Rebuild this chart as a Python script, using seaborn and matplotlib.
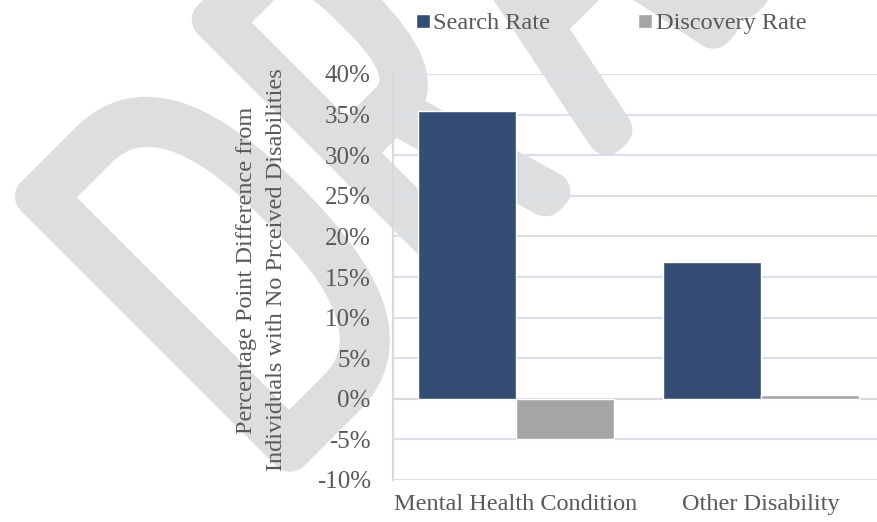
import matplotlib
matplotlib.use("Agg")
import matplotlib.pyplot as plt
import numpy as np
import pandas as pd
import seaborn as sns
from matplotlib.textpath import TextPath
from matplotlib.patches import PathPatch
from matplotlib.font_manager import FontProperties
from matplotlib.transforms import Affine2D, IdentityTransform

# ---- data ----
categories = ["Mental Health Condition", "Other Disability"]
series = ["Search Rate", "Discovery Rate"]
search_rate = [0.355, 0.168]
discovery_rate = [-0.050, 0.005]
y_ticks = [-0.10, -0.05, 0.0, 0.05, 0.10, 0.15, 0.20, 0.25, 0.30, 0.35, 0.40]
y_ticklabels = [f"{v * 100:.0f}%" for v in y_ticks]
y_label = "Percentage Point Difference from\nIndividuals with No Prceived Disabilities"
watermark = "DRAFT"

colors = ["#354C74", "#A5A5A5"]
text_color = "#595959"
wm_color = "#DDDEE0"

sns.set_theme(style="white")
plt.rcParams["font.family"] = ["Liberation Serif", "DejaVu Serif"]
plt.rcParams["axes.unicode_minus"] = False

W, H = 878, 522
fig = plt.figure(figsize=(W / 100, H / 100), dpi=100)
fig.patch.set_facecolor("white")

# ---- diagonal watermark: thin condensed letters with a heavy rounded stroke ----
# letter slots along the rotated baseline (left edge, width) in pixels
wm_font = FontProperties(family="IBM Plex Sans Condensed", weight=100)
wm_slots = [(18, 175), (268, 118), (466, 158), (660, 110), (800, 140)]
stroke_px = 40
cap_px = 361
cap_em = TextPath((0, 0), "D", size=1, prop=wm_font).get_extents().height
for ch, (left, width) in zip(watermark, wm_slots):
    glyph = TextPath((0, 0), ch, size=1, prop=wm_font)
    ext = glyph.get_extents()
    tr = (Affine2D().translate(-ext.x0, 0).scale(width / ext.width, cap_px / cap_em)
          .translate(left, 22).rotate_deg(45).translate(293, 42))
    fig.add_artist(PathPatch(tr.transform_path(glyph), facecolor=wm_color, edgecolor=wm_color,
                             lw=stroke_px * 72 / 100, joinstyle="round", capstyle="round",
                             transform=IdentityTransform(), zorder=0))

# ---- chart ----
ax = fig.add_axes([393 / W, 42 / H, 1 - 393 / W, 406 / H])
ax.set_facecolor("none")
ax.set_zorder(1)

df = pd.DataFrame({
    "category": categories * 2,
    "series": [series[0]] * len(categories) + [series[1]] * len(categories),
    "value": search_rate + discovery_rate,
})
sns.barplot(data=df, x="category", y="value", hue="series", hue_order=series,
            palette=colors, saturation=1, width=0.8, ax=ax, errorbar=None, zorder=3)

ax.set_xlim(-0.502, 1.478)
ax.set_ylim(-0.10, 0.40)
ax.set_yticks(y_ticks)
ax.set_yticklabels(y_ticklabels)
ax.yaxis.grid(True, color="#D9DEE8", lw=1.5, zorder=0)
ax.set_axisbelow(True)
ax.axhline(0, color="#D9D9D9", lw=1.5, zorder=2)

for side in ["top", "right", "bottom"]:
    ax.spines[side].set_visible(False)
ax.spines["left"].set_color("#D9D9D9")
ax.spines["left"].set_linewidth(1.5)

ax.tick_params(axis="both", length=0, colors=text_color)
ax.tick_params(axis="y", labelsize=18, pad=16)
ax.tick_params(axis="x", labelsize=17.5, pad=10)
ax.set_xlabel("")
ax.set_ylabel(y_label, fontsize=17.5, color=text_color, linespacing=1.55)
ax.yaxis.set_label_coords(-0.219, 0.517)

sns.move_legend(ax, loc="center", bbox_to_anchor=(611 / W, 1 - 24 / H),
                bbox_transform=fig.transFigure, ncol=2, frameon=False, title=None,
                fontsize=17.5, handlelength=0.58, handleheight=0.55,
                handletextpad=0.15, columnspacing=3.6, labelcolor=text_color)

fig.savefig("out.png", dpi=100, facecolor="white")
